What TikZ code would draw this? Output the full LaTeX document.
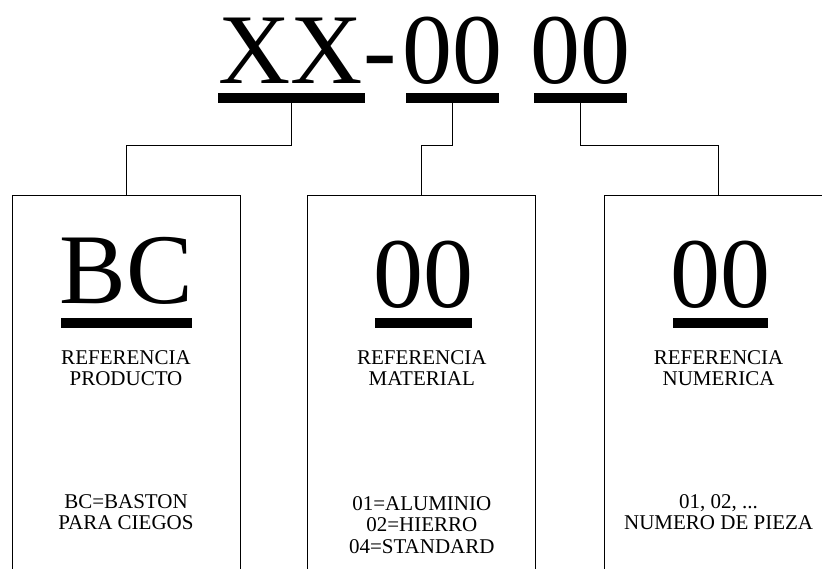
\documentclass[tikz,border=0pt]{standalone}
\usepackage{fontspec}
\setmainfont{Liberation Serif}
\usetikzlibrary{positioning}
\tikzstyle{code} = [inner sep=0pt, font=\fontsize{100}{100}\selectfont]
\tikzstyle{bar} = [rectangle, fill=black, inner sep=0pt, minimum height=9.5pt]
\tikzstyle{field} = [rectangle, draw=black, line width=0.8pt, minimum width=228pt, minimum height=420pt]
\tikzstyle{caption} = [inner sep=0pt, align=center, font=\fontsize{21}{21.5}\selectfont]
\tikzstyle{link} = [line width=0.8pt]

\begin{document}
\begin{tikzpicture}[x=1pt, y=-1pt]
	\path [use as bounding box, clip] (0,0) rectangle (822,568);

	% codigo de la pieza
	\node (xx) [code, anchor=base] at (291,83) {XX};
	\node (dash) [code, base right=0pt of xx] {-};
	\node (mat) [code, base right=5pt of dash] {00};
	\node (num) [code, base right=28pt of mat] {00};
	\node (ulxx) [bar, minimum width=147pt, below=10pt of xx.base] {};
	\node (ulmat) [bar, minimum width=93pt, below=10pt of mat.base] {};
	\node (ulnum) [bar, minimum width=93pt, below=10pt of num.base] {};

	% cajas
	\node (bprod) [field, anchor=north] at (126,195) {};
	\node (bmat) [field, right=67pt of bprod] {};
	\node (bnum) [field, right=68pt of bmat] {};

	\node (bc) [code, anchor=base] at ([yshift=-108pt]bprod.north) {BC};
	\node (m00) [code, anchor=base] at ([xshift=2pt, yshift=-112pt]bmat.north) {00};
	\node (n00) [code, anchor=base] at ([xshift=2pt, yshift=-112pt]bnum.north) {00};
	\node (ulbc) [bar, minimum width=131pt, below=15pt of bc.base] {};
	\node (ulm00) [bar, minimum width=97pt, below=11pt of m00.base] {};
	\node (uln00) [bar, minimum width=95pt, below=11pt of n00.base] {};

	\node (capprod) [caption, below=155pt of bprod.north] {REFERENCIA\\PRODUCTO};
	\node (capmat) [caption, below=155pt of bmat.north] {REFERENCIA\\MATERIAL};
	\node (capnum) [caption, below=155pt of bnum.north] {REFERENCIA\\NUMERICA};

	\node (infoprod) [caption, below=299pt of bprod.north] {BC=BASTON\\PARA CIEGOS};
	\node (infomat) [caption, below=301pt of bmat.north] {01=ALUMINIO\\02=HIERRO\\04=STANDARD};
	\node (infonum) [caption, below=299pt of bnum.north] {01, 02, ...\\NUMERO DE PIEZA};

	\draw [link] (ulxx.south) -- ++(0,42) -| (bprod.north);
	\draw [link] (ulmat.south) -- ++(0,42) -| (bmat.north);
	\draw [link] (ulnum.south) -- ++(0,42) -| (bnum.north);
\end{tikzpicture}
\end{document}
